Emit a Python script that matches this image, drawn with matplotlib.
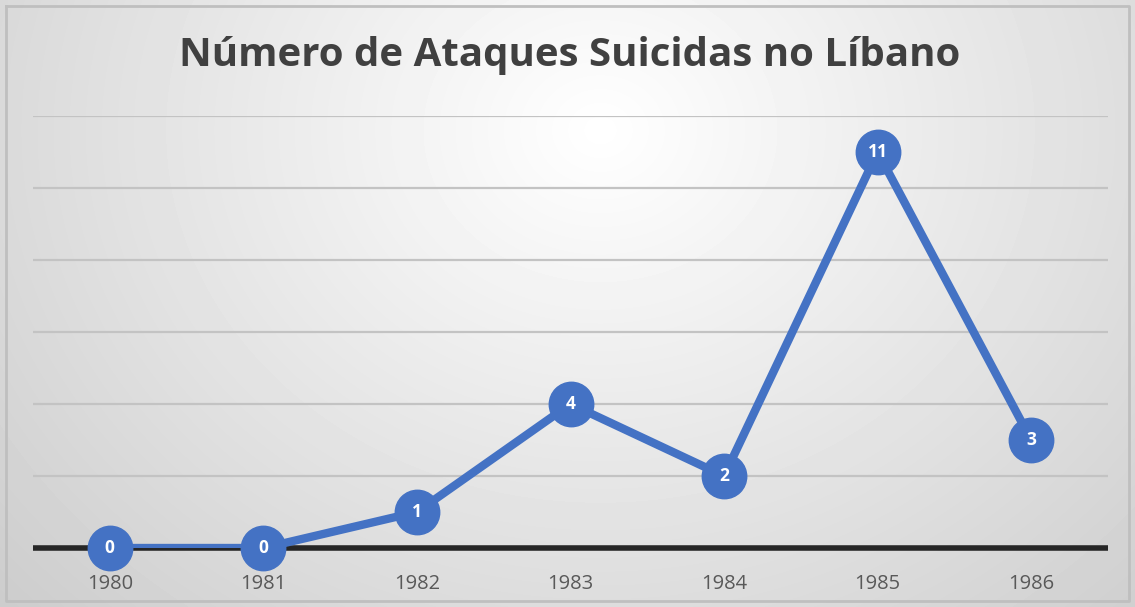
import matplotlib.pyplot as plt
import numpy as np

years = ["1980", "1981", "1982", "1983", "1984", "1985", "1986"]
attacks = [0, 0, 1, 4, 2, 11, 3]
title = "Número de Ataques Suicidas no Líbano"

blue = "#4472C4"

fig = plt.figure(figsize=(11.35, 6.07), dpi=100)

# background: radial gradient, white near top centre, grey towards the edges
bg = fig.add_axes([0, 0, 1, 1])
yy, xx = np.mgrid[0:607, 0:1135]
r = np.sqrt(((xx - 600) / 700.0) ** 2 + ((yy - 130) / 600.0) ** 2)
shade = 1.0 - 0.17 * np.clip(r, 0, 1.2) / 1.0
shade = np.clip(shade, 0.78, 1.0)
bg.imshow(shade, cmap="gray", vmin=0, vmax=1, aspect="auto", extent=[0, 1135, 607, 0])
bg.plot([6, 1129, 1129, 6, 6], [6, 6, 601, 601, 6], color="#BFBFBF", lw=2)
bg.set_xlim(0, 1135)
bg.set_ylim(607, 0)
bg.axis("off")

ax = fig.add_axes([33 / 1135, 59 / 607, 1075 / 1135, 432 / 607])
ax.patch.set_alpha(0)
x = np.arange(len(years))
ax.set_xlim(-0.5, len(years) - 0.5)
ax.set_ylim(0, 12)
for g in range(2, 13, 2):
    ax.axhline(g, color="#C3C3C3", lw=1.6, zorder=1)
ax.axhline(0, color="#262626", lw=4, zorder=1, clip_on=False, solid_capstyle="butt")

ax.plot(x, attacks, color=blue, lw=6, zorder=3, solid_joinstyle="round")
ax.plot(x, attacks, "o", color=blue, ms=32, zorder=4, clip_on=False)
for xi, v in zip(x, attacks):
    ax.text(xi, v, str(v), color="white", fontsize=12.5, fontweight="bold",
            family="Open Sans", ha="center", va="center", zorder=5)

ax.set_xticks(x)
ax.set_xticklabels(years, family="Open Sans", fontsize=14.5, color="#595959")
ax.tick_params(axis="x", length=0, pad=19)
ax.set_yticks([])
for s in ax.spines.values():
    s.set_visible(False)

fig.text(0.502, 0.908, title, ha="center", va="center", fontsize=29,
         fontweight="bold", family="Open Sans", color="#404040")

fig.savefig("out.png", dpi=100)
